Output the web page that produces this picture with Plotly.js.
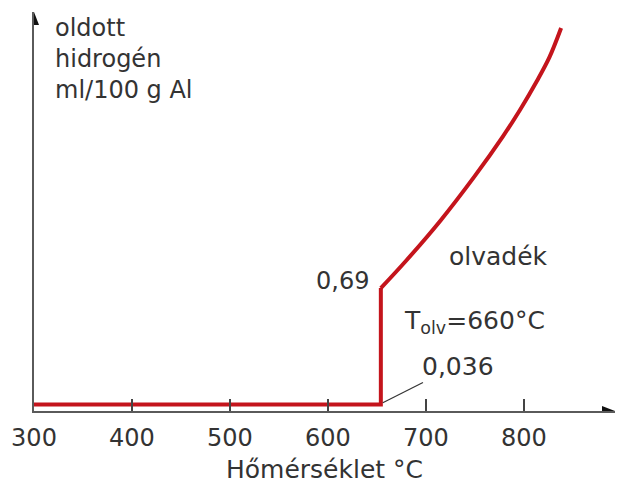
<!DOCTYPE html>
<html>
<head>
<meta charset="utf-8">
<script src="https://cdn.plot.ly/plotly-3.0.1.min.js"></script>
<style>html,body{margin:0;padding:0;background:#fff;}#chart{width:617px;height:484px;}</style>
</head>
<body>
<div id="chart"></div>
<script>
// Temperature (°C) and dissolved hydrogen (ml/100 g Al)
// solid aluminium + jump at the melting point
var solidTemperature = [300, 654, 654];
var solidHydrogen    = [0.036, 0.036, 0.69];
// liquid aluminium (olvadék)
var liquidTemperature = [654, 680, 715, 750, 779, 796, 813, 826, 838];
var liquidHydrogen    = [0.69, 0.845, 1.07, 1.32, 1.545, 1.69, 1.85, 1.985, 2.15];
var tickValues  = [300, 400, 500, 600, 700, 800];
var tickLabels  = ["300", "400", "500", "600", "700", "800"];
var yLabelLines = ["oldott", "hidrogén", "ml/100 g Al"];
var xTitle      = "Hőmérséklet °C";
var meltPoint   = {t: 654, low: 0.036, high: 0.69};

var FONT = "DejaVu Sans, Arial, sans-serif";
var TXT = "#333333";
var RED = "#c4141c";

var data = [{
  x: solidTemperature, y: solidHydrogen, type: "scatter", mode: "lines",
  line: {color: RED, width: 4}, hoverinfo: "skip", showlegend: false
}, {
  x: liquidTemperature, y: liquidHydrogen, type: "scatter", mode: "lines",
  line: {color: RED, width: 4, shape: "spline", smoothing: 1},
  hoverinfo: "skip", showlegend: false
}];

var layout = {
  width: 617, height: 484,
  margin: {l: 34, r: 2, t: 12, b: 73},
  paper_bgcolor: "#ffffff", plot_bgcolor: "#ffffff",
  showlegend: false,
  xaxis: {
    range: [300, 893], showgrid: false, zeroline: false,
    showline: true, linecolor: "#5a5a5a", linewidth: 2,
    ticks: "inside", ticklen: 12, tickwidth: 2, tickcolor: "#444444",
    tickvals: tickValues, ticktext: tickLabels, ticklabelstandoff: 4,
    tickfont: {family: FONT, size: 24, color: TXT},
    title: {text: xTitle, font: {family: FONT, size: 25, color: TXT}, standoff: 13}
  },
  yaxis: {
    range: [0, 2.24], showgrid: false, zeroline: false,
    showline: true, linecolor: "#5a5a5a", linewidth: 2,
    ticks: "", showticklabels: false
  },
  shapes: [{
    type: "line", xref: "x", yref: "y",
    x0: meltPoint.t + 2, y0: meltPoint.low + 0.01, x1: 697, y1: 0.16,
    line: {color: "#333333", width: 1.2}
  }, {
    type: "path", xref: "x", yref: "y", xsizemode: "pixel", ysizemode: "pixel",
    xanchor: 893, yanchor: 0, path: "M 0 0 L -13 -5 L -13 5 Z",
    fillcolor: "#111111", line: {width: 0}
  }, {
    type: "path", xref: "x", yref: "y", xsizemode: "pixel", ysizemode: "pixel",
    xanchor: 300, yanchor: 2.24, path: "M 0 0 L -5 -13 L 5 -13 Z",
    fillcolor: "#111111", line: {width: 0}
  }],
  annotations: [
    {xref: "paper", yref: "paper", x: 0.032, y: 1.0, xanchor: "left", yanchor: "top",
     text: yLabelLines.join("<br>"), align: "left", showarrow: false,
     font: {family: FONT, size: 24, color: TXT}},
    {xref: "x", yref: "y", x: 652, y: meltPoint.high + 0.04, xanchor: "right", yanchor: "middle",
     xshift: -8, text: "0,69", showarrow: false, font: {family: FONT, size: 24, color: TXT}},
    {xref: "x", yref: "y", x: 722, y: 0.87, xanchor: "left", yanchor: "middle",
     text: "olvadék", showarrow: false, font: {family: FONT, size: 25, color: TXT}},
    {xref: "x", yref: "y", x: 676, y: 0.5, xanchor: "left", yanchor: "middle",
     text: "T<sub>olv</sub>=660°C", showarrow: false, font: {family: FONT, size: 25, color: TXT}},
    {xref: "x", yref: "y", x: 694, y: 0.25, xanchor: "left", yanchor: "middle",
     text: "0,036", showarrow: false, font: {family: FONT, size: 25, color: TXT}}
  ]
};

Plotly.newPlot("chart", data, layout, {staticPlot: true, displayModeBar: false});
</script>
</body>
</html>
